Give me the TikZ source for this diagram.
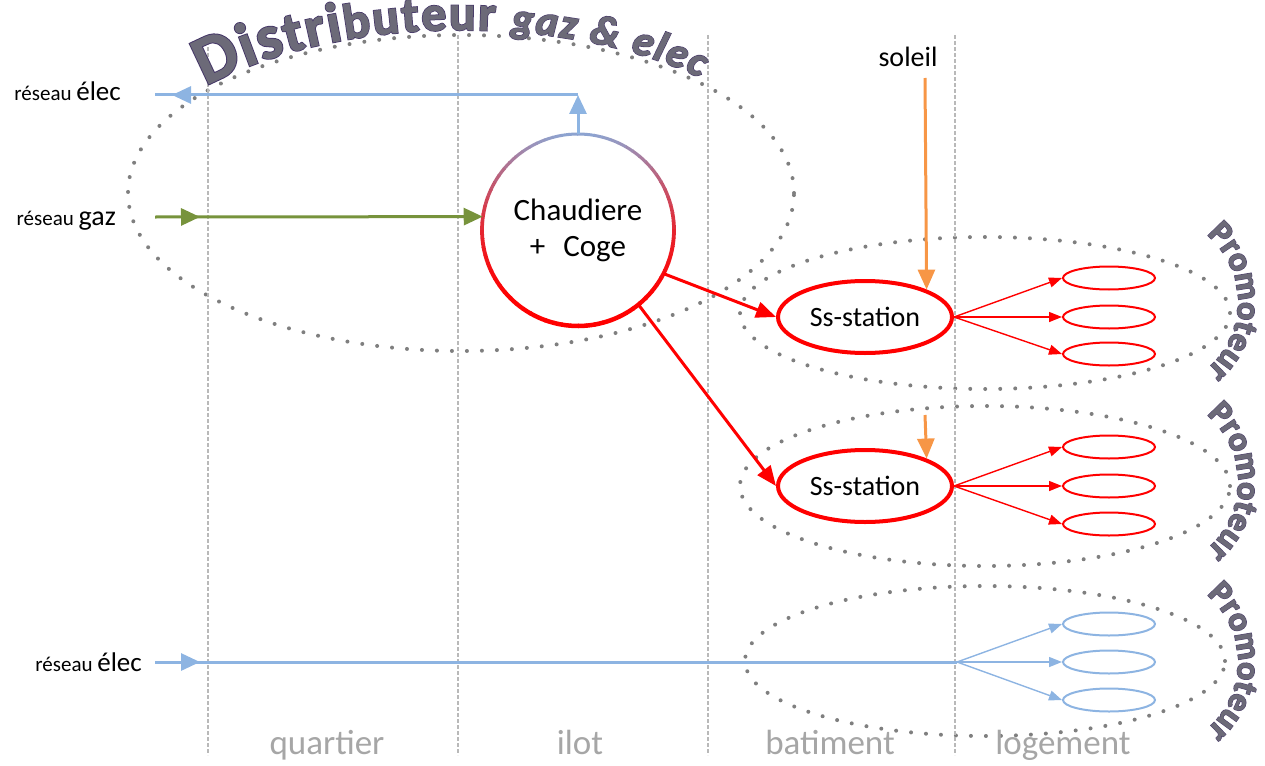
\documentclass[tikz,border=0pt]{standalone}
\usepackage{fontspec}
\setmainfont{Carlito}
\newfontfamily\wafont{Carlito}[UprightFont={* Bold}, ItalicFont={* Bold Italic}, FakeBold=1]
\newfontfamily\wafontB{Carlito}[UprightFont={* Bold}, ItalicFont={* Bold Italic}, FakeBold=4]
\usetikzlibrary{shapes.geometric,arrows.meta,decorations.text,decorations.markings}

\definecolor{elecblue}{HTML}{8DB4E2}
\definecolor{gazgreen}{HTML}{77933C}
\definecolor{heatred}{HTML}{FF0000}
\definecolor{sunorange}{HTML}{F79646}
\definecolor{ringtop}{HTML}{8CA5D2}
\definecolor{dotgray}{HTML}{7F7F7F}
\definecolor{waline}{HTML}{463868}
\definecolor{wafill}{HTML}{6C6A78}

\newcommand\waline{\wafontB\color{waline}}
\newcommand\wafill{\wafont\color{wafill}}
\newcommand\distfont[1]{\fontsize{#1}{#1}\selectfont\wapass}
\newcommand\gazfont[1]{\fontsize{#1}{#1}\selectfont\wapass\itshape}

\tikzset{
  colline/.style={gray!55, line width=1.3pt, dash pattern=on 4pt off 2pt},
  dotring/.style={dotgray, line width=4pt, line cap=round, dash pattern=on 0pt off 15pt},
  elecline/.style={elecblue, line width=3pt},
  gazline/.style={gazgreen, line width=3pt},
  bigtip/.style={-{Triangle[length=19pt, width=17pt]}},
  midtip/.style={postaction={decorate}, decoration={markings,
      mark=at position #1 with {\arrow{Triangle[length=19pt, width=17pt]}}}},
  heat/.style={heatred, line width=3pt, -{Triangle[length=20pt, width=16pt]}},
  sunline/.style={sunorange, line width=3pt, -{Triangle[length=20pt, width=17pt]}},
  fan/.style={line width=1.4pt, -{Triangle[length=13pt, width=10pt]}},
  sstation/.style={ellipse, draw=heatred, line width=4pt, minimum width=174pt,
      minimum height=72pt, inner sep=0pt, font=\fontsize{28}{32}\selectfont},
  logt/.style={ellipse, line width=2pt, fill=white, minimum width=92pt,
      minimum height=23pt, inner sep=0pt},
  collabel/.style={anchor=base, text=gray!70, font=\fontsize{35}{40}\selectfont},
  netlabel/.style={anchor=base east, inner sep=0pt},
}

\begin{document}
\begin{tikzpicture}[x=1pt, y=1pt]
  \useasboundingbox (0,0) rectangle (1265,-765);

  % zones
  \draw[dotring] (461,-193) ellipse [x radius=333, y radius=158];
  \draw[dotring] (985,-313) ellipse [x radius=245, y radius=76];
  \draw[dotring] (985,-486) ellipse [x radius=245, y radius=80];
  \draw[dotring] (985,-661) ellipse [x radius=240, y radius=75];

  \foreach \x in {208,458,708,955}
    \draw[colline] (\x,-35) -- (\x,-755);

  \node[collabel] (quartier) at (327,-754) {quartier};
  \node[collabel] (ilot) at (580,-754) {ilot};
  \node[collabel] (batiment) at (830,-754) {batiment};
  \node[collabel] (logement) at (1063,-754) {logement};

  % sources
  \node[netlabel] (elecT) at (121,-101) {\fontsize{21}{24}\selectfont réseau \fontsize{27}{30}\selectfont élec};
  \node[netlabel] (gaz) at (116,-225) {\fontsize{21}{24}\selectfont réseau \fontsize{28}{30}\selectfont gaz};
  \node[netlabel] (elecB) at (142,-671) {\fontsize{21}{24}\selectfont réseau \fontsize{27}{30}\selectfont élec};
  \node[anchor=base, font=\fontsize{28}{32}\selectfont] (soleil) at (908,-67) {soleil};

  \coordinate (elecW) at (155,-95);
  \coordinate (elecTop) at (578,-95);
  \coordinate (gazW) at (155,-217);
  \coordinate (elecBW) at (155,-662);
  \coordinate (elecHub) at (957,-662);
  \coordinate (sun1) at (925,-78);
  \coordinate (sun2) at (925,-415);

  % chaufferie
  \node[circle, minimum size=192pt, align=center, font=\fontsize{31}{36}\selectfont] (chp) at (578,-230)
    {Chaudiere\\+\hspace{18pt}Coge};
  \foreach \a in {0,5,...,355}{
    \pgfmathtruncatemacro\mixb{100*((1+sin(\a+2.5))/2)^2}
    \pgfmathsetmacro\wid{3+1.5*(1-sin(\a+2.5))/2}
    \draw[line width=\wid pt, ringtop!\mixb!heatred] (chp.center) ++(\a:96)
      arc[start angle=\a, end angle=\a+5.5, radius=96];
  }

  \node[sstation] (ss1) at (865,-317) {Ss-station};
  \node[sstation] (ss2) at (865,-486) {Ss-station};

  \foreach \y [count=\i] in {278,317,354}
    \node[logt, draw=heatred] (la\i) at (1109,-\y) {};
  \foreach \y [count=\i] in {447,486,524}
    \node[logt, draw=heatred] (lb\i) at (1109,-\y) {};
  \foreach \y [count=\i] in {624,662,700}
    \node[logt, draw=elecblue] (lc\i) at (1109,-\y) {};

  % flux
  \draw[elecline, bigtip] (chp.north) -- (elecTop);
  \draw[elecline, midtip=-17pt] (elecTop) -- (elecW);
  \draw[gazline, midtip=45pt, bigtip] (gazW) -- (chp.172);
  \draw[elecline, midtip=45pt] (elecBW) -- (elecHub);

  \draw[heat] (chp.-27) -- (ss1.west);
  \draw[heat] (chp.-51) -- (ss2.west);
  \draw[sunline] (sun1) -- (ss1.24);
  \draw[sunline] (sun2) -- (ss2.24);

  \foreach \i in {1,2,3}{
    \draw[fan, heatred] (ss1.east) -- (la\i.west);
    \draw[fan, heatred] (ss2.east) -- (lb\i.west);
    \draw[fan, elecblue] (elecHub) -- (lc\i.west);
  }

  % acteurs
  \foreach \wapass in {\waline,\wafill}{
    \path[decorate, decoration={text along path, text align=fit to path,
        text={|\distfont{68}|D|\distfont{62}|is|\distfont{56}|tri|\distfont{50}|buteur |\gazfont{42}|gaz {\&} elec}}]
      (461,-193) ++(139:338 and 163) arc[start angle=139, end angle=45, x radius=338, y radius=163];
    \foreach \cy in {302,482,662}
      \path[decorate, decoration={text along path, text align=center,
          text={|\distfont{34}|Promoteur}}]
        (1150,-\cy) ++(52:88) arc[start angle=52, end angle=-52, radius=88];
  }
\end{tikzpicture}
\end{document}
